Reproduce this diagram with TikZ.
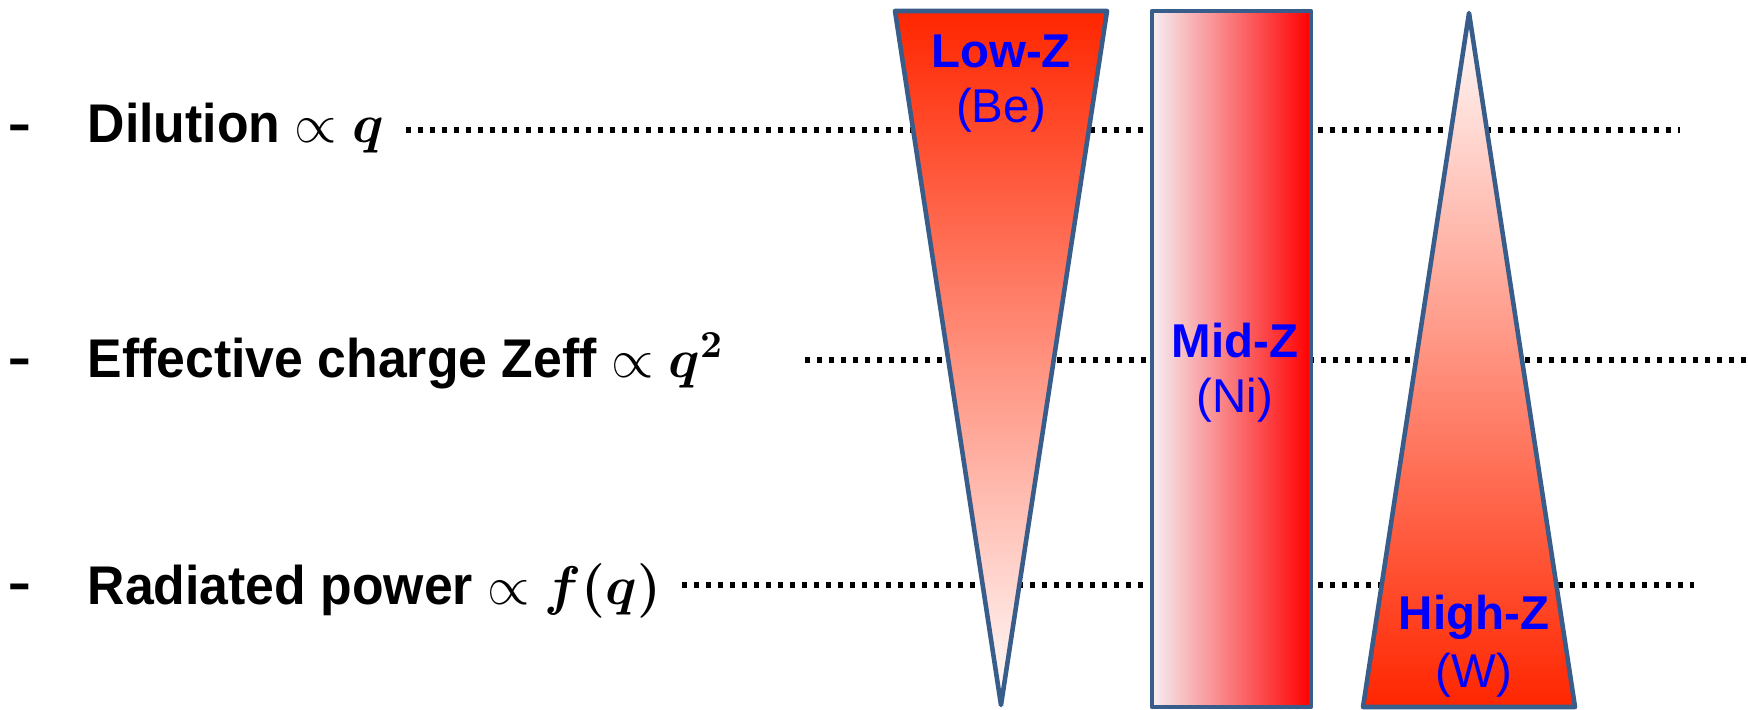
\RequirePackage{fix-cm}
\documentclass[tikz,border=0pt]{standalone}
\usepackage{amsmath}
\usepackage[no-math]{fontspec}
\setmainfont{Liberation Sans}
\newfontfamily\leftfont[FakeStretch=0.95]{Liberation Sans}
\definecolor{edgeblue}{RGB}{56,93,138}
\definecolor{hotred}{RGB}{255,38,0}
\definecolor{midred}{RGB}{252,178,174}
\definecolor{palered}{RGB}{255,252,252}
\definecolor{paleleft}{RGB}{245,238,242}
\definecolor{lblblue}{RGB}{0,0,255}
\tikzset{
  rowtext/.style={font=\leftfont\bfseries\fontsize{15.5}{18}\selectfont, anchor=base west, inner sep=0pt},
  bulletmark/.style={font=\fontsize{21}{24}\selectfont, anchor=base, inner sep=0pt},
  dotline/.style={line width=0.55mm, dash pattern=on 0.5mm off 0.7mm, black},
  shapeedge/.style={draw=edgeblue, line width=1.3pt, line join=round},
  bigl/.style={font=\bfseries\fontsize{13.5}{16}\selectfont, text=lblblue, anchor=base, inner sep=0pt},
  smalll/.style={font=\fontsize{13.5}{16}\selectfont, text=lblblue, anchor=base, inner sep=0pt}
}
\begin{document}
\begin{tikzpicture}[x=0.1mm,y=-0.1mm]
\useasboundingbox (0,0) rectangle (1748,709);
% row texts
\node[bulletmark] (b1) at (20,147) {-};
\node[bulletmark] (b2) at (20,381) {-};
\node[bulletmark] (b3) at (20,606) {-};
\node[rowtext] (t1) at (87,142) {Dilution $\propto \boldsymbol{q}$};
\node[rowtext] (t2) at (87,377) {Effective charge Zeff $\propto \boldsymbol{q^{2}}$};
\node[rowtext] (t3) at (87,604) {Radiated power $\propto \boldsymbol{f(q)}$};
% dotted lines
\coordinate (d1s) at (406,130);
\coordinate (d1e) at (1680,130);
\coordinate (d2s) at (805,360);
\coordinate (d2e) at (1746,360);
\coordinate (d3s) at (682,585);
\coordinate (d3e) at (1694,585);
\draw[dotline] (d1s) -- (d1e);
\draw[dotline] (d2s) -- (d2e);
\draw[dotline] (d3s) -- (d3e);
% Low-Z triangle
\coordinate (lz1) at (895,11);
\coordinate (lz2) at (1107,11);
\coordinate (lz3) at (1001,705);
\shade[top color=hotred, middle color=midred, bottom color=palered] (lz1) -- (lz2) -- (lz3) -- cycle;
\draw[shapeedge] (lz1) -- (lz2) -- (lz3) -- cycle;
% Mid-Z rectangle
\coordinate (mz1) at (1152,11);
\coordinate (mz2) at (1311,707);
\shade[left color=paleleft, right color=red] (mz1) rectangle (mz2);
\draw[shapeedge] (mz1) rectangle (mz2);
% High-Z triangle
\coordinate (hz1) at (1469,13);
\coordinate (hz2) at (1575,707);
\coordinate (hz3) at (1363,707);
\shade[top color=palered, middle color=midred, bottom color=hotred] (hz1) -- (hz2) -- (hz3) -- cycle;
\draw[shapeedge] (hz1) -- (hz2) -- (hz3) -- cycle;
% labels
\node[bigl] (lowz) at (1001,67) {Low-Z};
\node[smalll] (be) at (1001,122) {(Be)};
\node[bigl] (midz) at (1235,357) {Mid-Z};
\node[smalll] (ni) at (1235,412) {(Ni)};
\node[bigl] (highz) at (1474,629) {High-Z};
\node[smalll] (w) at (1474,687) {(W)};
\end{tikzpicture}
\end{document}
